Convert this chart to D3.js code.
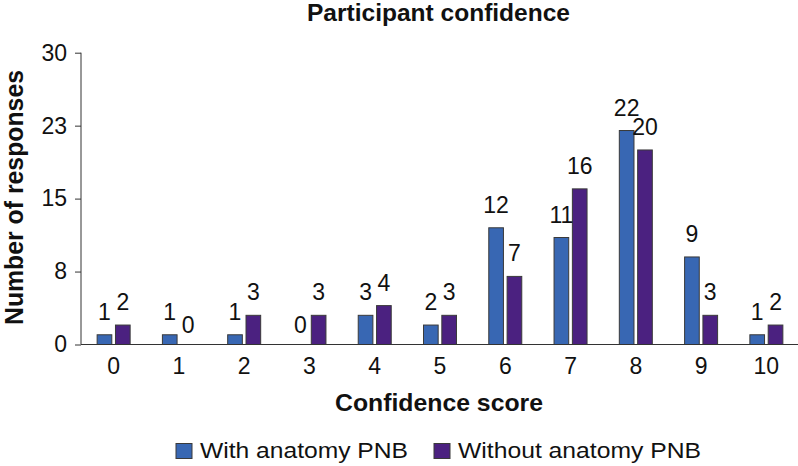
<!DOCTYPE html>
<html>
<head>
<meta charset="utf-8">
<script src="https://cdn.jsdelivr.net/npm/d3@7"></script>
<style>
  html, body { margin: 0; padding: 0; background: #fff; }
  svg { display: block; }
  text { font-family: "Liberation Sans", Arial, Helvetica, sans-serif; fill: #111; }
</style>
</head>
<body>
<svg id="chart" width="798" height="466"></svg>
<script>
const categories = ["0","1","2","3","4","5","6","7","8","9","10"];
const seriesNames = ["With anatomy PNB", "Without anatomy PNB"];
const withPNB    = [1, 1, 1, 0, 3, 2, 12, 11, 22, 9, 1];
const withoutPNB = [2, 0, 3, 3, 4, 3, 7, 16, 20, 3, 2];
const yTickValues = [0, 7.5, 15, 22.5, 30];
const yTickLabels = ["0", "8", "15", "23", "30"];
const colors = ["#3867b3", "#4b2180"];

const svg = d3.select("#chart");
const x0 = 81, x1 = 799, yTop = 52.7, yBottom = 344.5;

const x = d3.scaleBand().domain(categories).range([x0, x1]).padding(0);
const xSub = d3.scaleBand().domain(seriesNames).range([-16.5, 16.5]).paddingInner(0.2);
const y = d3.scaleLinear().domain([0, 30]).range([yBottom, yTop]);

const data = categories.map((c, i) => ({cat: c, vals: [withPNB[i], withoutPNB[i]]}));

// Bars
const groups = svg.append("g").selectAll("g").data(data).join("g")
  .attr("transform", d => `translate(${x(d.cat) + x.bandwidth() / 2},0)`);

groups.selectAll("rect")
  .data(d => d.vals.map((v, j) => ({v, s: seriesNames[j], j})))
  .join("rect")
  .filter(d => d.v > 0)
  .attr("x", d => xSub(d.s))
  .attr("width", xSub.bandwidth())
  .attr("y", d => y(d.v))
  .attr("height", d => y(0) - y(d.v))
  .attr("fill", d => colors[d.j])
  .attr("stroke", "#3a3a3a")
  .attr("stroke-width", 1);

// Value labels
groups.selectAll("text.val")
  .data(d => d.vals.map((v, j) => ({v, s: seriesNames[j], j})))
  .join("text")
  .attr("class", "val")
  .attr("x", d => xSub(d.s) + xSub.bandwidth() / 2)
  .attr("y", d => d.v > 0 ? y(d.v) - 15 : y(0) - 12)
  .attr("text-anchor", "middle")
  .style("font-size", "23px")
  .text(d => d.v);

// Y axis
const yAxis = d3.axisLeft(y).tickValues(yTickValues).tickSize(6).tickPadding(8)
  .tickFormat((d, i) => yTickLabels[i]);
const gy = svg.append("g").attr("transform", `translate(${x0},0)`).call(yAxis);
gy.select(".domain").attr("stroke", "#333").attr("d", `M0,${yTop}V${yBottom}`);
gy.selectAll(".tick line").attr("stroke", "#333");
gy.selectAll(".tick text").style("font-size", "23px").attr("fill", "#111")
  .style("font-family", '"Liberation Sans", Arial, sans-serif');

// X axis
const xAxis = d3.axisBottom(x).tickSize(0).tickPadding(14);
const gx = svg.append("g").attr("transform", `translate(0,${yBottom})`).call(xAxis);
gx.select(".domain").attr("stroke", "#333").attr("d", `M${x0},0H${x1}`);
gx.selectAll(".tick text").style("font-size", "23px").attr("fill", "#111")
  .style("font-family", '"Liberation Sans", Arial, sans-serif')
  .attr("dy", null).attr("y", 29.5);

// Title
svg.append("text")
  .attr("x", 438.5).attr("y", 21)
  .attr("text-anchor", "middle")
  .attr("textLength", 263).attr("lengthAdjust", "spacingAndGlyphs")
  .style("font-size", "23.5px").style("font-weight", "bold")
  .text("Participant confidence");

// X axis title
svg.append("text")
  .attr("x", 439).attr("y", 410.5)
  .attr("text-anchor", "middle")
  .attr("textLength", 208).attr("lengthAdjust", "spacingAndGlyphs")
  .style("font-size", "24.5px").style("font-weight", "bold")
  .text("Confidence score");

// Y axis title
svg.append("text")
  .attr("transform", "translate(22.5,197.5) rotate(-90)")
  .attr("text-anchor", "middle")
  .attr("textLength", 255).attr("lengthAdjust", "spacingAndGlyphs")
  .style("font-size", "26.5px").style("font-weight", "bold")
  .text("Number of responses");

// Legend
const legendItems = [
  {name: seriesNames[0], color: colors[0], sx: 176, tx: 200, w: 208},
  {name: seriesNames[1], color: colors[1], sx: 434, tx: 458, w: 243}
];
const lg = svg.append("g").selectAll("g").data(legendItems).join("g");
lg.append("rect")
  .attr("x", d => d.sx).attr("y", 443.5).attr("width", 16).attr("height", 15)
  .attr("fill", d => d.color).attr("stroke", "#3a3a3a").attr("stroke-width", 1);
lg.append("text")
  .attr("x", d => d.tx).attr("y", 457.5)
  .attr("textLength", d => d.w).attr("lengthAdjust", "spacingAndGlyphs")
  .style("font-size", "22.5px")
  .text(d => d.name);
</script>
</body>
</html>
